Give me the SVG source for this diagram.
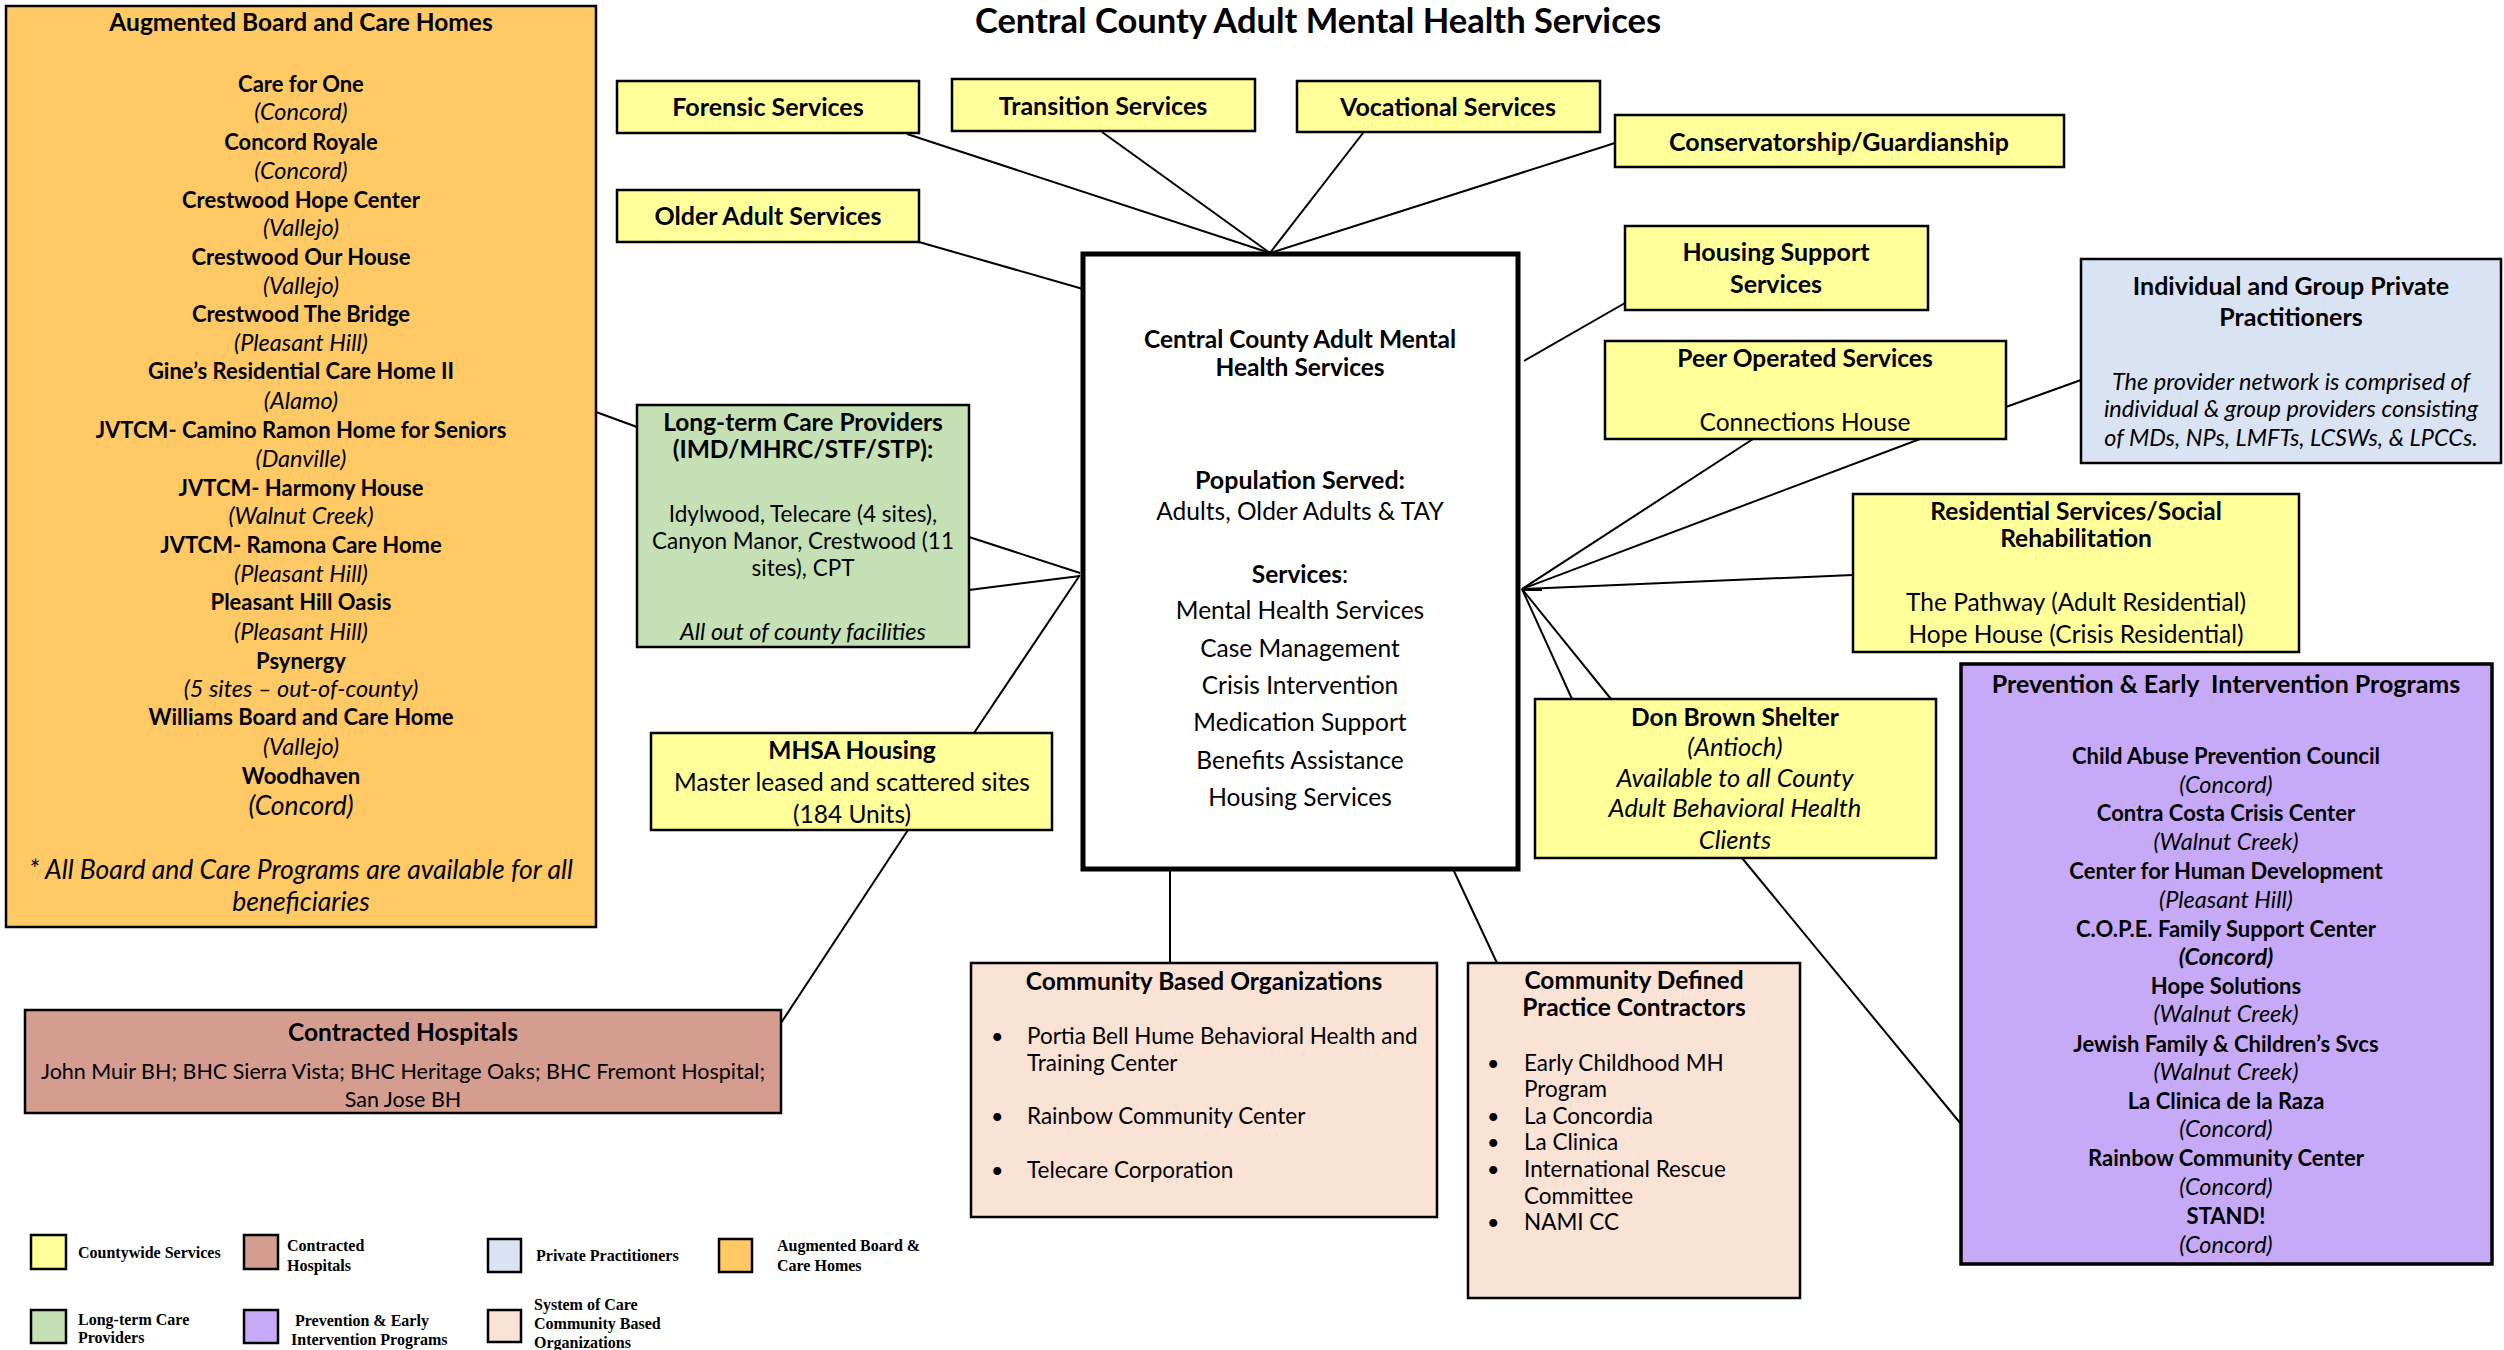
<svg xmlns="http://www.w3.org/2000/svg" width="2504" height="1350" viewBox="0 0 2504 1350">
<style>
text{font-family:Lato,"Open Sans","Liberation Sans",sans-serif;fill:#000}
.b{font-weight:bold}
.i{font-style:italic}
.m{text-anchor:middle}
.box{stroke:#000;stroke-width:2.5}
.yel{fill:#FFFF99}
.org{fill:#FFC966}
.grn{fill:#C5E0B4}
.blu{fill:#DAE3F3}
.lav{fill:#C6AAF8}
.pch{fill:#FAE2D5}
.hos{fill:#D59C90}
.c{stroke:#000;stroke-width:2;fill:none}
.lg{font-family:"Liberation Serif","Times New Roman",serif;font-weight:bold;font-size:16px}
.s21{font-size:21.5px}
.s22{font-size:22px}
.s225{font-size:22.5px}
.s23{font-size:23px}
.s235{font-size:23.5px}
.s245{font-size:24.5px}
.s25{font-size:25px}
.s255{font-size:25.5px}
.s265{font-size:26.5px}
</style>

<text x="1318" y="33" class="b m" style="font-size:34.5px">Central County Adult Mental Health Services</text>

<g id="connectors">
<line class="c" x1="907" y1="134" x2="1270" y2="253"/>
<line class="c" x1="1102" y1="132" x2="1270" y2="253"/>
<line class="c" x1="1363" y1="133" x2="1270" y2="253"/>
<line class="c" x1="1615" y1="143" x2="1270" y2="253"/>
<line class="c" x1="919" y1="242" x2="1083" y2="289"/>
<line class="c" x1="596" y1="412" x2="637" y2="427"/>
<line class="c" x1="969" y1="537" x2="1080" y2="573"/>
<line class="c" x1="969" y1="590" x2="1080" y2="576"/>
<line class="c" x1="974" y1="733" x2="1080" y2="575"/>
<line class="c" x1="908" y1="830" x2="781" y2="1023"/>
<line class="c" x1="1524" y1="361" x2="1625" y2="303"/>
<line class="c" x1="1522" y1="589" x2="1753" y2="439"/>
<line class="c" x1="1522" y1="589" x2="1920" y2="439"/>
<line class="c" x1="1522" y1="589" x2="1853" y2="575"/>
<line class="c" x1="1522" y1="590" x2="1542" y2="590"/>
<line class="c" x1="1522" y1="589" x2="1572" y2="699"/>
<line class="c" x1="1522" y1="589" x2="1611" y2="699"/>
<line class="c" x1="2006" y1="407" x2="2081" y2="380"/>
<line class="c" x1="1742" y1="858" x2="1961" y2="1124"/>
<line class="c" x1="1170" y1="869" x2="1170" y2="963"/>
<line class="c" x1="1453" y1="869" x2="1497" y2="963"/>
</g>

<g id="augmented-board-care">
<rect class="box org" x="6" y="6" width="590" height="921"/>
<text class="b m s245" x="301" y="31">Augmented Board and Care Homes</text>
<text class="b m s22" x="301" y="92">Care for One</text>
<text class="i m s235" x="301" y="120">(Concord)</text>
<text class="b m s22" x="301" y="150">Concord Royale</text>
<text class="i m s235" x="301" y="179">(Concord)</text>
<text class="b m s22" x="301" y="208">Crestwood Hope Center</text>
<text class="i m s235" x="301" y="236">(Vallejo)</text>
<text class="b m s22" x="301" y="265">Crestwood Our House</text>
<text class="i m s235" x="301" y="294">(Vallejo)</text>
<text class="b m s22" x="301" y="322">Crestwood The Bridge</text>
<text class="i m s235" x="301" y="351">(Pleasant Hill)</text>
<text class="b m s22" x="301" y="379">Gine’s Residential Care Home II</text>
<text class="i m s235" x="301" y="409">(Alamo)</text>
<text class="b m s22" x="301" y="438">JVTCM- Camino Ramon Home for Seniors</text>
<text class="i m s235" x="301" y="467">(Danville)</text>
<text class="b m s22" x="301" y="496">JVTCM- Harmony House</text>
<text class="i m s235" x="301" y="524">(Walnut Creek)</text>
<text class="b m s22" x="301" y="553">JVTCM- Ramona Care Home</text>
<text class="i m s235" x="301" y="582">(Pleasant Hill)</text>
<text class="b m s22" x="301" y="610">Pleasant Hill Oasis</text>
<text class="i m s235" x="301" y="640">(Pleasant Hill)</text>
<text class="b m s22" x="301" y="669">Psynergy</text>
<text class="i m s235" x="301" y="697">(5 sites – out-of-county)</text>
<text class="b m s22" x="301" y="725">Williams Board and Care Home</text>
<text class="i m s235" x="301" y="755">(Vallejo)</text>
<text class="b m s22" x="301" y="784">Woodhaven</text>
<text class="i m s265" x="301" y="815">(Concord)</text>
<text class="i m s265" x="301" y="879">* All Board and Care Programs are available for all</text>
<text class="i m s265" x="301" y="911">beneficiaries</text>
</g>

<g id="forensic-services">
<rect class="box yel" x="617" y="81" width="302" height="52"/>
<text class="b m s25" x="768" y="116">Forensic Services</text>
</g>
<g id="transition-services">
<rect class="box yel" x="952" y="79" width="303" height="52"/>
<text class="b m s25" x="1103" y="115">Transition Services</text>
</g>
<g id="vocational-services">
<rect class="box yel" x="1297" y="81" width="303" height="51"/>
<text class="b m s25" x="1448" y="116">Vocational Services</text>
</g>
<g id="conservatorship">
<rect class="box yel" x="1615" y="115" width="449" height="52"/>
<text class="b m s25" x="1839" y="151">Conservatorship/Guardianship</text>
</g>
<g id="older-adult-services">
<rect class="box yel" x="617" y="190" width="302" height="52"/>
<text class="b m s25" x="768" y="225">Older Adult Services</text>
</g>

<g id="central-county">
<rect x="1083" y="254" width="435" height="615" fill="#fff" stroke="#000" stroke-width="5"/>
<text class="b m s245" x="1300" y="348">Central County Adult Mental</text>
<text class="b m s245" x="1300" y="376">Health Services</text>
<text class="b m s25" x="1300" y="489">Population Served:</text>
<text class="m s245" x="1300" y="520">Adults, Older Adults &amp; TAY</text>
<text class="m s245" x="1300" y="583"><tspan class="b">Services</tspan>:</text>
<text class="m s245" x="1300" y="619">Mental Health Services</text>
<text class="m s245" x="1300" y="657">Case Management</text>
<text class="m s245" x="1300" y="694">Crisis Intervention</text>
<text class="m s245" x="1300" y="731">Medication Support</text>
<text class="m s245" x="1300" y="769">Benefits Assistance</text>
<text class="m s245" x="1300" y="806">Housing Services</text>
</g>

<g id="long-term-care">
<rect class="box grn" x="637" y="405" width="332" height="242"/>
<text class="b m s245" x="803" y="431">Long-term Care Providers</text>
<text class="b m s245" x="803" y="458">(IMD/MHRC/STF/STP):</text>
<text class="m s225" x="803" y="522">Idylwood, Telecare (4 sites),</text>
<text class="m s225" x="803" y="549">Canyon Manor, Crestwood (11</text>
<text class="m s225" x="803" y="576">sites), CPT</text>
<text class="i m s235" x="803" y="640">All out of county facilities</text>
</g>

<g id="mhsa-housing">
<rect class="box yel" x="651" y="733" width="401" height="97"/>
<text class="b m s245" x="852" y="759">MHSA Housing</text>
<text class="m s245" x="852" y="791">Master leased and scattered sites</text>
<text class="m s245" x="852" y="823">(184 Units)</text>
</g>

<g id="housing-support">
<rect class="box yel" x="1625" y="226" width="303" height="84"/>
<text class="b m s25" x="1776" y="261">Housing Support</text>
<text class="b m s25" x="1776" y="293">Services</text>
</g>

<g id="peer-operated">
<rect class="box yel" x="1605" y="341" width="401" height="98"/>
<text class="b m s245" x="1805" y="367">Peer Operated Services</text>
<text class="m s245" x="1805" y="431">Connections House</text>
</g>

<g id="private-practitioners">
<rect class="box blu" x="2081" y="259" width="420" height="204"/>
<text class="b m s25" x="2291" y="295">Individual and Group Private</text>
<text class="b m s25" x="2291" y="326">Practitioners</text>
<text class="i m s235" x="2291" y="390">The provider network is comprised of</text>
<text class="i m s235" x="2291" y="417">individual &amp; group providers consisting</text>
<text class="i m s235" x="2291" y="446">of MDs, NPs, LMFTs, LCSWs, &amp; LPCCs.</text>
</g>

<g id="residential-services">
<rect class="box yel" x="1853" y="494" width="446" height="158"/>
<text class="b m s245" x="2076" y="520">Residential Services/Social</text>
<text class="b m s245" x="2076" y="547">Rehabilitation</text>
<text class="m s245" x="2076" y="611">The Pathway (Adult Residential)</text>
<text class="m s245" x="2076" y="643">Hope House (Crisis Residential)</text>
</g>

<g id="don-brown-shelter">
<rect class="box yel" x="1535" y="699" width="401" height="159"/>
<text class="b m s245" x="1735" y="726">Don Brown Shelter</text>
<text class="i m s255" x="1735" y="756">(Antioch)</text>
<text class="i m s255" x="1735" y="787">Available to all County</text>
<text class="i m s255" x="1735" y="817">Adult Behavioral Health</text>
<text class="i m s255" x="1735" y="849">Clients</text>
</g>

<g id="prevention-early-intervention">
<rect x="1961" y="664" width="531" height="600" class="lav" stroke="#000" stroke-width="3.5"/>
<text class="b m s25" x="2226" y="693">Prevention &amp; Early &#160;Intervention Programs</text>
<text class="b m s22" x="2226" y="764">Child Abuse Prevention Council</text>
<text class="i m s235" x="2226" y="793">(Concord)</text>
<text class="b m s22" x="2226" y="821">Contra Costa Crisis Center</text>
<text class="i m s235" x="2226" y="850">(Walnut Creek)</text>
<text class="b m s22" x="2226" y="879">Center for Human Development</text>
<text class="i m s235" x="2226" y="908">(Pleasant Hill)</text>
<text class="b m s22" x="2226" y="937">C.O.P.E. Family Support Center</text>
<text class="b i m s235" x="2226" y="965">(Concord)</text>
<text class="b m s22" x="2226" y="994">Hope Solutions</text>
<text class="i m s235" x="2226" y="1022">(Walnut Creek)</text>
<text class="b m s22" x="2226" y="1052">Jewish Family &amp; Children’s Svcs</text>
<text class="i m s235" x="2226" y="1080">(Walnut Creek)</text>
<text class="b m s22" x="2226" y="1109">La Clinica de la Raza</text>
<text class="i m s235" x="2226" y="1137">(Concord)</text>
<text class="b m s22" x="2226" y="1166">Rainbow Community Center</text>
<text class="i m s235" x="2226" y="1195">(Concord)</text>
<text class="b m s22" x="2226" y="1224">STAND!</text>
<text class="i m s235" x="2226" y="1253">(Concord)</text>
</g>

<g id="community-based-organizations">
<rect class="box pch" x="971" y="963" width="466" height="254"/>
<text class="b m s245" x="1204" y="990">Community Based Organizations</text>
<text class="s21" x="991" y="1044">•</text>
<text class="s225" x="1027" y="1044">Portia Bell Hume Behavioral Health and</text>
<text class="s225" x="1027" y="1071">Training Center</text>
<text class="s21" x="991" y="1124">•</text>
<text class="s225" x="1027" y="1124">Rainbow Community Center</text>
<text class="s21" x="991" y="1178">•</text>
<text class="s225" x="1027" y="1178">Telecare Corporation</text>
</g>

<g id="community-defined-practice">
<rect class="box pch" x="1468" y="963" width="332" height="335"/>
<text class="b m s245" x="1634" y="989">Community Defined</text>
<text class="b m s245" x="1634" y="1016">Practice Contractors</text>
<text class="s21" x="1487" y="1071">•</text>
<text class="s225" x="1524" y="1071">Early Childhood MH</text>
<text class="s225" x="1524" y="1097">Program</text>
<text class="s21" x="1487" y="1124">•</text>
<text class="s225" x="1524" y="1124">La Concordia</text>
<text class="s21" x="1487" y="1150">•</text>
<text class="s225" x="1524" y="1150">La Clinica</text>
<text class="s21" x="1487" y="1177">•</text>
<text class="s225" x="1524" y="1177">International Rescue</text>
<text class="s225" x="1524" y="1204">Committee</text>
<text class="s21" x="1487" y="1230">•</text>
<text class="s225" x="1524" y="1230">NAMI CC</text>
</g>

<g id="contracted-hospitals">
<rect class="box hos" x="25" y="1010" width="756" height="103"/>
<text class="b m s245" x="403" y="1041">Contracted Hospitals</text>
<text class="m s21" x="403" y="1079">John Muir BH; BHC Sierra Vista; BHC Heritage Oaks; BHC Fremont Hospital;</text>
<text class="m s21" x="403" y="1107">San Jose BH</text>
</g>

<g id="legend">
<rect class="box yel" x="31" y="1235" width="35" height="34"/>
<text class="lg" x="78" y="1258">Countywide Services</text>
<rect class="box hos" x="244" y="1235" width="34" height="34"/>
<text class="lg" x="287" y="1251">Contracted</text>
<text class="lg" x="287" y="1271">Hospitals</text>
<rect class="box blu" x="488" y="1239" width="33" height="33"/>
<text class="lg" x="536" y="1261">Private Practitioners</text>
<rect class="box org" x="719" y="1239" width="33" height="33"/>
<text class="lg" x="777" y="1251">Augmented Board &amp;</text>
<text class="lg" x="777" y="1271">Care Homes</text>
<rect class="box grn" x="31" y="1310" width="35" height="33"/>
<text class="lg" x="78" y="1325">Long-term Care</text>
<text class="lg" x="78" y="1343">Providers</text>
<rect class="box lav" x="244" y="1310" width="34" height="33"/>
<text class="lg" x="295" y="1326">Prevention &amp; Early</text>
<text class="lg" x="291" y="1345">Intervention Programs</text>
<rect class="box pch" x="488" y="1310" width="33" height="32"/>
<text class="lg" x="534" y="1310">System of Care</text>
<text class="lg" x="534" y="1329">Community Based</text>
<text class="lg" x="534" y="1348">Organizations</text>
</g>
</svg>
